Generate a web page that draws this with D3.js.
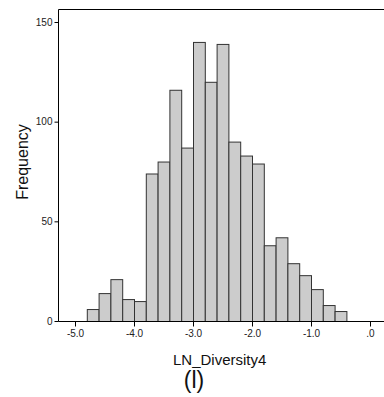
<!DOCTYPE html>
<html>
<head>
<meta charset="utf-8">
<script src="https://cdn.jsdelivr.net/npm/d3@7"></script>
<style>
  html, body { margin: 0; padding: 0; background: #fff; overflow: hidden; }
  svg { display: block; font-family: "Liberation Sans", Arial, sans-serif; }
</style>
</head>
<body>
<div id="chart"></div>
<script>
// bin edges (width 0.2) and frequencies
const binStarts = [-4.8, -4.6, -4.4, -4.2, -4.0, -3.8, -3.6, -3.4, -3.2, -3.0, -2.8,
                   -2.6, -2.4, -2.2, -2.0, -1.8, -1.6, -1.4, -1.2, -1.0, -0.8, -0.6];
const frequencies = [6, 14, 21, 11, 10, 74, 80, 116, 87, 140, 120,
                     139, 90, 83, 79, 38, 42, 29, 23, 16, 8, 5];
const binWidth = 0.2;
const xTicks = [-5, -4, -3, -2, -1, 0];
const xTickLabels = ['-5.0', '-4.0', '-3.0', '-2.0', '-1.0', '.0'];
const yTicks = [0, 50, 100, 150];

const width = 384, height = 397;
const plotLeft = 58, plotTop = 9, plotBottom = 321;

const svg = d3.select('#chart').append('svg')
    .attr('width', width)
    .attr('height', height);

// x(-5) ~ 75px, x(0) ~ 370px
const x = d3.scaleLinear().domain([-5, 0]).range([75, 370]);
const y = d3.scaleLinear().domain([0, 150]).range([plotBottom, 22]);

// bars
svg.selectAll('rect.bar')
    .data(binStarts.map((s, i) => ({ start: s, value: frequencies[i] })))
    .enter()
    .append('rect')
    .attr('class', 'bar')
    .attr('x', d => x(d.start) + 0.5)
    .attr('y', d => y(d.value) + 0.5)
    .attr('width', d => x(d.start + binWidth) - x(d.start))
    .attr('height', d => y(0) - y(d.value))
    .attr('fill', '#cccccc')
    .attr('stroke', '#333')
    .attr('stroke-width', 1);

// frame: top, left and bottom lines (right side runs off the image)
const frame = svg.append('g').attr('stroke', '#000').attr('stroke-width', 1);
frame.append('line')
    .attr('x1', plotLeft + 0.5).attr('x2', width)
    .attr('y1', plotTop + 0.5).attr('y2', plotTop + 0.5);
frame.append('line')
    .attr('x1', plotLeft + 0.5).attr('x2', plotLeft + 0.5)
    .attr('y1', plotTop + 0.5).attr('y2', plotBottom + 0.5);
frame.append('line')
    .attr('x1', plotLeft + 0.5).attr('x2', width)
    .attr('y1', plotBottom + 0.5).attr('y2', plotBottom + 0.5);

// y axis
const yAxis = d3.axisLeft(y)
    .tickValues(yTicks)
    .tickSize(4)
    .tickPadding(2);
const gy = svg.append('g')
    .attr('transform', `translate(${plotLeft + 0.5},0)`)
    .call(yAxis);
gy.select('.domain').remove();
gy.selectAll('line').attr('stroke', '#000');
gy.selectAll('text')
    .attr('font-size', '10px')
    .attr('fill', '#222')
    .style('font-family', '"Liberation Sans", Arial, sans-serif');

// x axis
const xAxis = d3.axisBottom(x)
    .tickValues(xTicks)
    .tickFormat((d, i) => xTickLabels[i])
    .tickSize(5)
    .tickPadding(3);
const gx = svg.append('g')
    .attr('transform', `translate(0,${plotBottom + 0.5})`)
    .call(xAxis);
gx.select('.domain').remove();
gx.selectAll('line').attr('stroke', '#000');
gx.selectAll('text')
    .attr('font-size', '10px')
    .attr('fill', '#222')
    .style('font-family', '"Liberation Sans", Arial, sans-serif');

// axis titles
svg.append('text')
    .attr('transform', 'translate(28,162) rotate(-90)')
    .attr('text-anchor', 'middle')
    .attr('font-size', '16px')
    .attr('fill', '#111')
    .text('Frequency');

svg.append('text')
    .attr('x', 173)
    .attr('y', 365)
    .attr('text-anchor', 'start')
    .attr('font-size', '15px')
    .attr('fill', '#111')
    .text('LN_Diversity4');

svg.append('text')
    .attr('x', 194)
    .attr('y', 388)
    .attr('text-anchor', 'middle')
    .attr('font-size', '23px')
    .attr('fill', '#111')
    .text('(l)');
</script>
</body>
</html>
